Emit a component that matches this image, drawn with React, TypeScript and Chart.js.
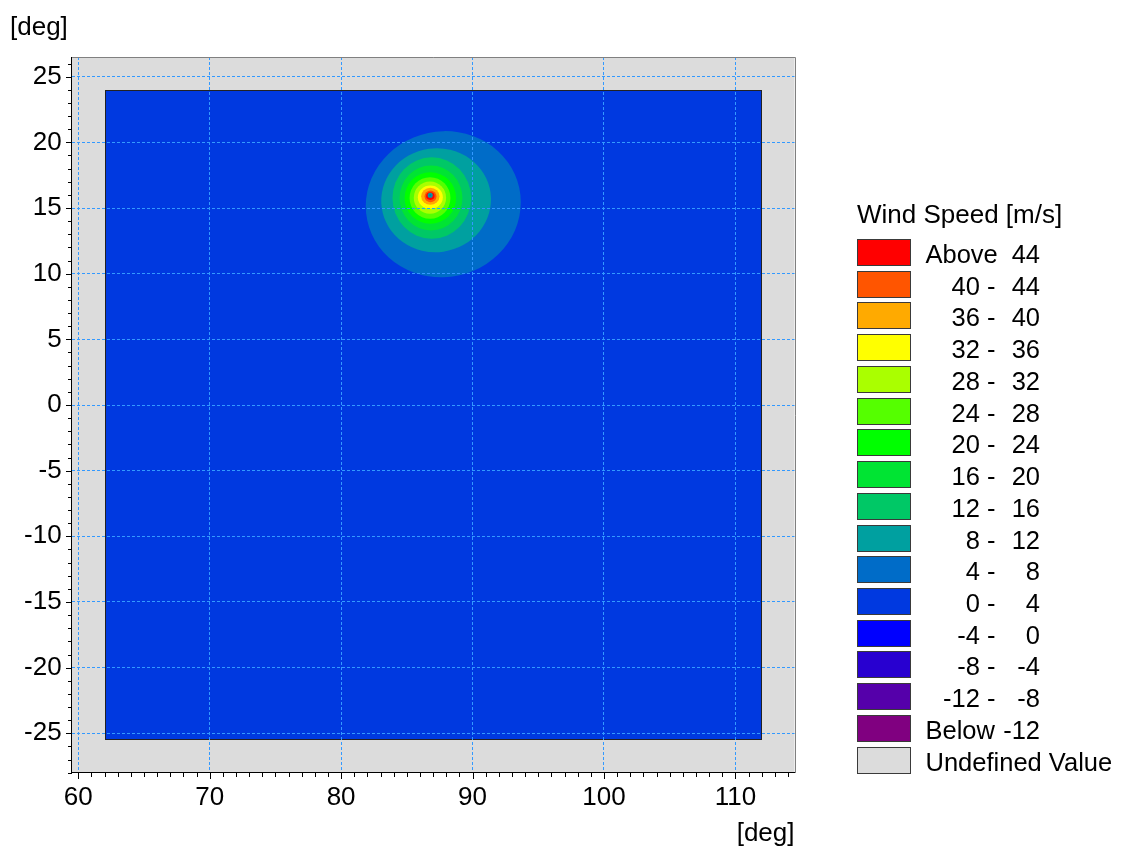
import React, { useEffect, useRef } from "react";
import { Chart, registerables } from "chart.js";

Chart.register(...registerables);

const FONT = "'Liberation Sans', Arial, Helvetica, sans-serif";

// Axes (degrees)
const xRange = [59.5, 114.5];
const yRange = [-28, 26.5];
const xTickValues = [60, 70, 80, 90, 100, 110];
const yTickValues = [-25, -20, -15, -10, -5, 0, 5, 10, 15, 20, 25];
const xMinorStep = 1;
const yMinorStep = 1;
const xMajorEvery = 10;
const yMajorEvery = 5;
const axisUnit = "[deg]";

// Model domain (defined values)
const domainLon = [62, 112];
const domainLat = [-25.5, 24];

// Legend
const legendTitle = "Wind Speed [m/s]";
const legendLeft = [
  "Above", "40 -", "36 -", "32 -", "28 -", "24 -", "20 -", "16 -", "12 -",
  "8 -", "4 -", "0 -", "-4 -", "-8 -", "-12 -", "Below", "Undefined Value",
];
const legendRight = [
  "44", "44", "40", "36", "32", "28", "24", "20", "16",
  "12", "8", "4", "0", "-4", "-8", "-12", "",
];
const legendColors = [
  "rgb(255,0,0)", "rgb(255,85,0)", "rgb(255,170,0)", "rgb(255,255,0)",
  "rgb(170,255,0)", "rgb(85,255,0)", "rgb(0,255,0)", "rgb(0,228,51)",
  "rgb(0,200,102)", "rgb(0,160,160)", "rgb(0,108,200)", "rgb(0,57,224)",
  "rgb(0,0,255)", "rgb(40,0,208)", "rgb(85,0,170)", "rgb(128,0,128)",
  "rgb(220,220,220)",
];
const backgroundClass = 11; // 0 - 4 m/s
const undefinedClass = 16;

// Wind-speed bands (region where speed >= level), read as bounding boxes in degrees
const bandLevel = [4, 8, 12, 16, 20, 24, 28, 32, 36, 40, 44];
const bandWest = [81.86, 83.05, 83.91, 84.45, 84.83, 85.21, 85.53, 85.84, 86.09, 86.35, 86.47];
const bandEast = [93.69, 91.41, 89.89, 89.23, 88.75, 88.32, 87.99, 87.74, 87.49, 87.26, 87.11];
const bandNorth = [20.84, 19.55, 18.86, 18.23, 17.72, 17.34, 17.02, 16.71, 16.54, 16.33, 16.2];
const bandSouth = [9.74, 11.64, 12.66, 13.29, 13.8, 14.18, 14.56, 14.94, 15.24, 15.44, 15.62];
const bandTiltDeg = [-12, -8, 0, 0, 0, 0, 0, 0, 0, 0, 0];

// Cyclone eye
const eyeLon = [86.78];
const eyeLat = [15.97];

function classOfLevel(level: number) {
  return (44 - level) / 4;
}

const mapPlugin = {
  id: "mapPlugin",
  beforeDraw(chart: any) {
    const { ctx, chartArea: a } = chart;
    const xs = chart.scales.x;
    const ys = chart.scales.y;
    ctx.save();
    ctx.fillStyle = legendColors[undefinedClass];
    ctx.fillRect(a.left, a.top, a.right - a.left, a.bottom - a.top);

    const l = Math.round(xs.getPixelForValue(domainLon[0]));
    const r = Math.round(xs.getPixelForValue(domainLon[1]));
    const t = Math.round(ys.getPixelForValue(domainLat[1]));
    const b = Math.round(ys.getPixelForValue(domainLat[0]));
    ctx.fillStyle = legendColors[backgroundClass];
    ctx.fillRect(l, t, r - l, b - t);

    ctx.save();
    ctx.beginPath();
    ctx.rect(l, t, r - l, b - t);
    ctx.clip();
    for (let i = 0; i < bandLevel.length; i++) {
      const x0 = xs.getPixelForValue(bandWest[i]);
      const x1 = xs.getPixelForValue(bandEast[i]);
      const y0 = ys.getPixelForValue(bandNorth[i]);
      const y1 = ys.getPixelForValue(bandSouth[i]);
      ctx.beginPath();
      ctx.ellipse(
        (x0 + x1) / 2,
        (y0 + y1) / 2,
        Math.abs(x1 - x0) / 2,
        Math.abs(y1 - y0) / 2,
        (bandTiltDeg[i] * Math.PI) / 180,
        0,
        Math.PI * 2
      );
      ctx.fillStyle = legendColors[classOfLevel(bandLevel[i])];
      ctx.fill();
    }
    ctx.restore();

    ctx.strokeStyle = "#222";
    ctx.lineWidth = 1;
    ctx.strokeRect(l + 0.5, t + 0.5, r - l - 1, b - t - 1);
    ctx.restore();
  },
  afterDraw(chart: any) {
    const { ctx, chartArea: a } = chart;
    const xs = chart.scales.x;
    const ys = chart.scales.y;
    ctx.save();
    // top/right frame
    ctx.strokeStyle = "#808080";
    ctx.lineWidth = 1;
    ctx.beginPath();
    ctx.moveTo(Math.round(a.left), Math.round(a.top) + 0.5);
    ctx.lineTo(Math.round(a.right) + 0.5, Math.round(a.top) + 0.5);
    ctx.lineTo(Math.round(a.right) + 0.5, Math.round(a.bottom));
    ctx.stroke();

    // tick marks
    ctx.strokeStyle = "#000";
    ctx.beginPath();
    for (let v = Math.ceil(yRange[0]); v <= yRange[1]; v += yMinorStep) {
      const py = Math.round(ys.getPixelForValue(v)) + 0.5;
      const len = v % yMajorEvery === 0 ? 6 : 4;
      ctx.moveTo(Math.round(a.left) - len, py);
      ctx.lineTo(Math.round(a.left), py);
    }
    for (let v = Math.ceil(xRange[0]); v <= xRange[1]; v += xMinorStep) {
      const px = Math.round(xs.getPixelForValue(v)) + 0.5;
      const len = v % xMajorEvery === 0 ? 6 : 4;
      ctx.moveTo(px, Math.round(a.bottom));
      ctx.lineTo(px, Math.round(a.bottom) + len);
    }
    ctx.stroke();

    // axis unit labels
    ctx.fillStyle = "#000";
    ctx.font = `26px ${FONT}`;
    ctx.textBaseline = "alphabetic";
    ctx.textAlign = "left";
    ctx.fillText(axisUnit, 10, 35);
    ctx.textAlign = "right";
    ctx.fillText(axisUnit, a.right, 841);

    // legend
    const lx = 857;
    ctx.textAlign = "left";
    ctx.font = `26px ${FONT}`;
    ctx.fillText(legendTitle, lx, 223);
    ctx.font = `25.5px ${FONT}`;
    const top0 = 239;
    const pitch = 31.73;
    for (let i = 0; i < legendColors.length; i++) {
      const by = Math.round(top0 + i * pitch);
      ctx.fillStyle = legendColors[i];
      ctx.fillRect(lx, by, 53, 26);
      ctx.strokeStyle = "#3a3a3a";
      ctx.strokeRect(lx + 0.5, by + 0.5, 53, 26);
      ctx.fillStyle = "#000";
      const base = by + 23.5;
      const left = legendLeft[i];
      if (left === "Above" || left === "Below" || legendRight[i] === "") {
        ctx.textAlign = "left";
        ctx.fillText(left, 925.5, base);
      } else {
        ctx.textAlign = "right";
        ctx.fillText(left, 995.5, base);
      }
      if (legendRight[i] !== "") {
        ctx.textAlign = "right";
        ctx.fillText(legendRight[i], 1040, base);
      }
    }
    ctx.restore();
  },
};

export default function App() {
  const canvasRef = useRef<HTMLCanvasElement | null>(null);

  useEffect(() => {
    const canvas = canvasRef.current;
    if (!canvas) return;
    const chart = new Chart(canvas, {
      type: "scatter",
      data: {
        datasets: [
          {
            label: "Eye",
            data: eyeLon.map((v, i) => ({ x: v, y: eyeLat[i] })),
            pointRadius: 1.8,
            pointBackgroundColor: legendColors[10],
            pointBorderColor: legendColors[9],
            pointBorderWidth: 1.5,
          },
        ],
      },
      options: {
        responsive: false,
        animation: false,
        events: [],
        layout: { padding: { left: 0, top: 57, right: 1123 - 794.5, bottom: 0 } },
        plugins: {
          legend: { display: false },
          tooltip: { enabled: false },
          title: { display: false },
        },
        scales: {
          x: {
            type: "linear",
            position: "bottom",
            min: xRange[0],
            max: xRange[1],
            afterBuildTicks: (s: any) => {
              s.ticks = xTickValues.map((v) => ({ value: v }));
            },
            afterFit: (s: any) => {
              s.height = 848 - 772.7;
            },
            grid: { color: "rgb(51,153,255)", lineWidth: 1, drawTicks: false },
            border: { display: true, color: "#000", width: 1, dash: [3, 2] },
            ticks: {
              color: "#000",
              padding: 10,
              font: { family: FONT, size: 26 },
              callback: (v: any) => String(v),
              maxRotation: 0,
              autoSkip: false,
            },
          },
          y: {
            type: "linear",
            position: "left",
            min: yRange[0],
            max: yRange[1],
            afterBuildTicks: (s: any) => {
              s.ticks = yTickValues.map((v) => ({ value: v }));
            },
            afterFit: (s: any) => {
              s.width = 71.7;
            },
            grid: { color: "rgb(51,153,255)", lineWidth: 1, drawTicks: false },
            border: { display: true, color: "#000", width: 1, dash: [3, 2] },
            ticks: {
              color: "#000",
              padding: 10,
              font: { family: FONT, size: 26 },
              callback: (v: any) => String(v),
              autoSkip: false,
            },
          },
        },
      },
      plugins: [mapPlugin],
    });
    return () => chart.destroy();
  }, []);

  return (
    <div style={{ position: "absolute", left: 0, top: 0, width: 1123, height: 848, background: "#fff" }}>
      <canvas ref={canvasRef} width={1123} height={848} style={{ display: "block" }} />
    </div>
  );
}
